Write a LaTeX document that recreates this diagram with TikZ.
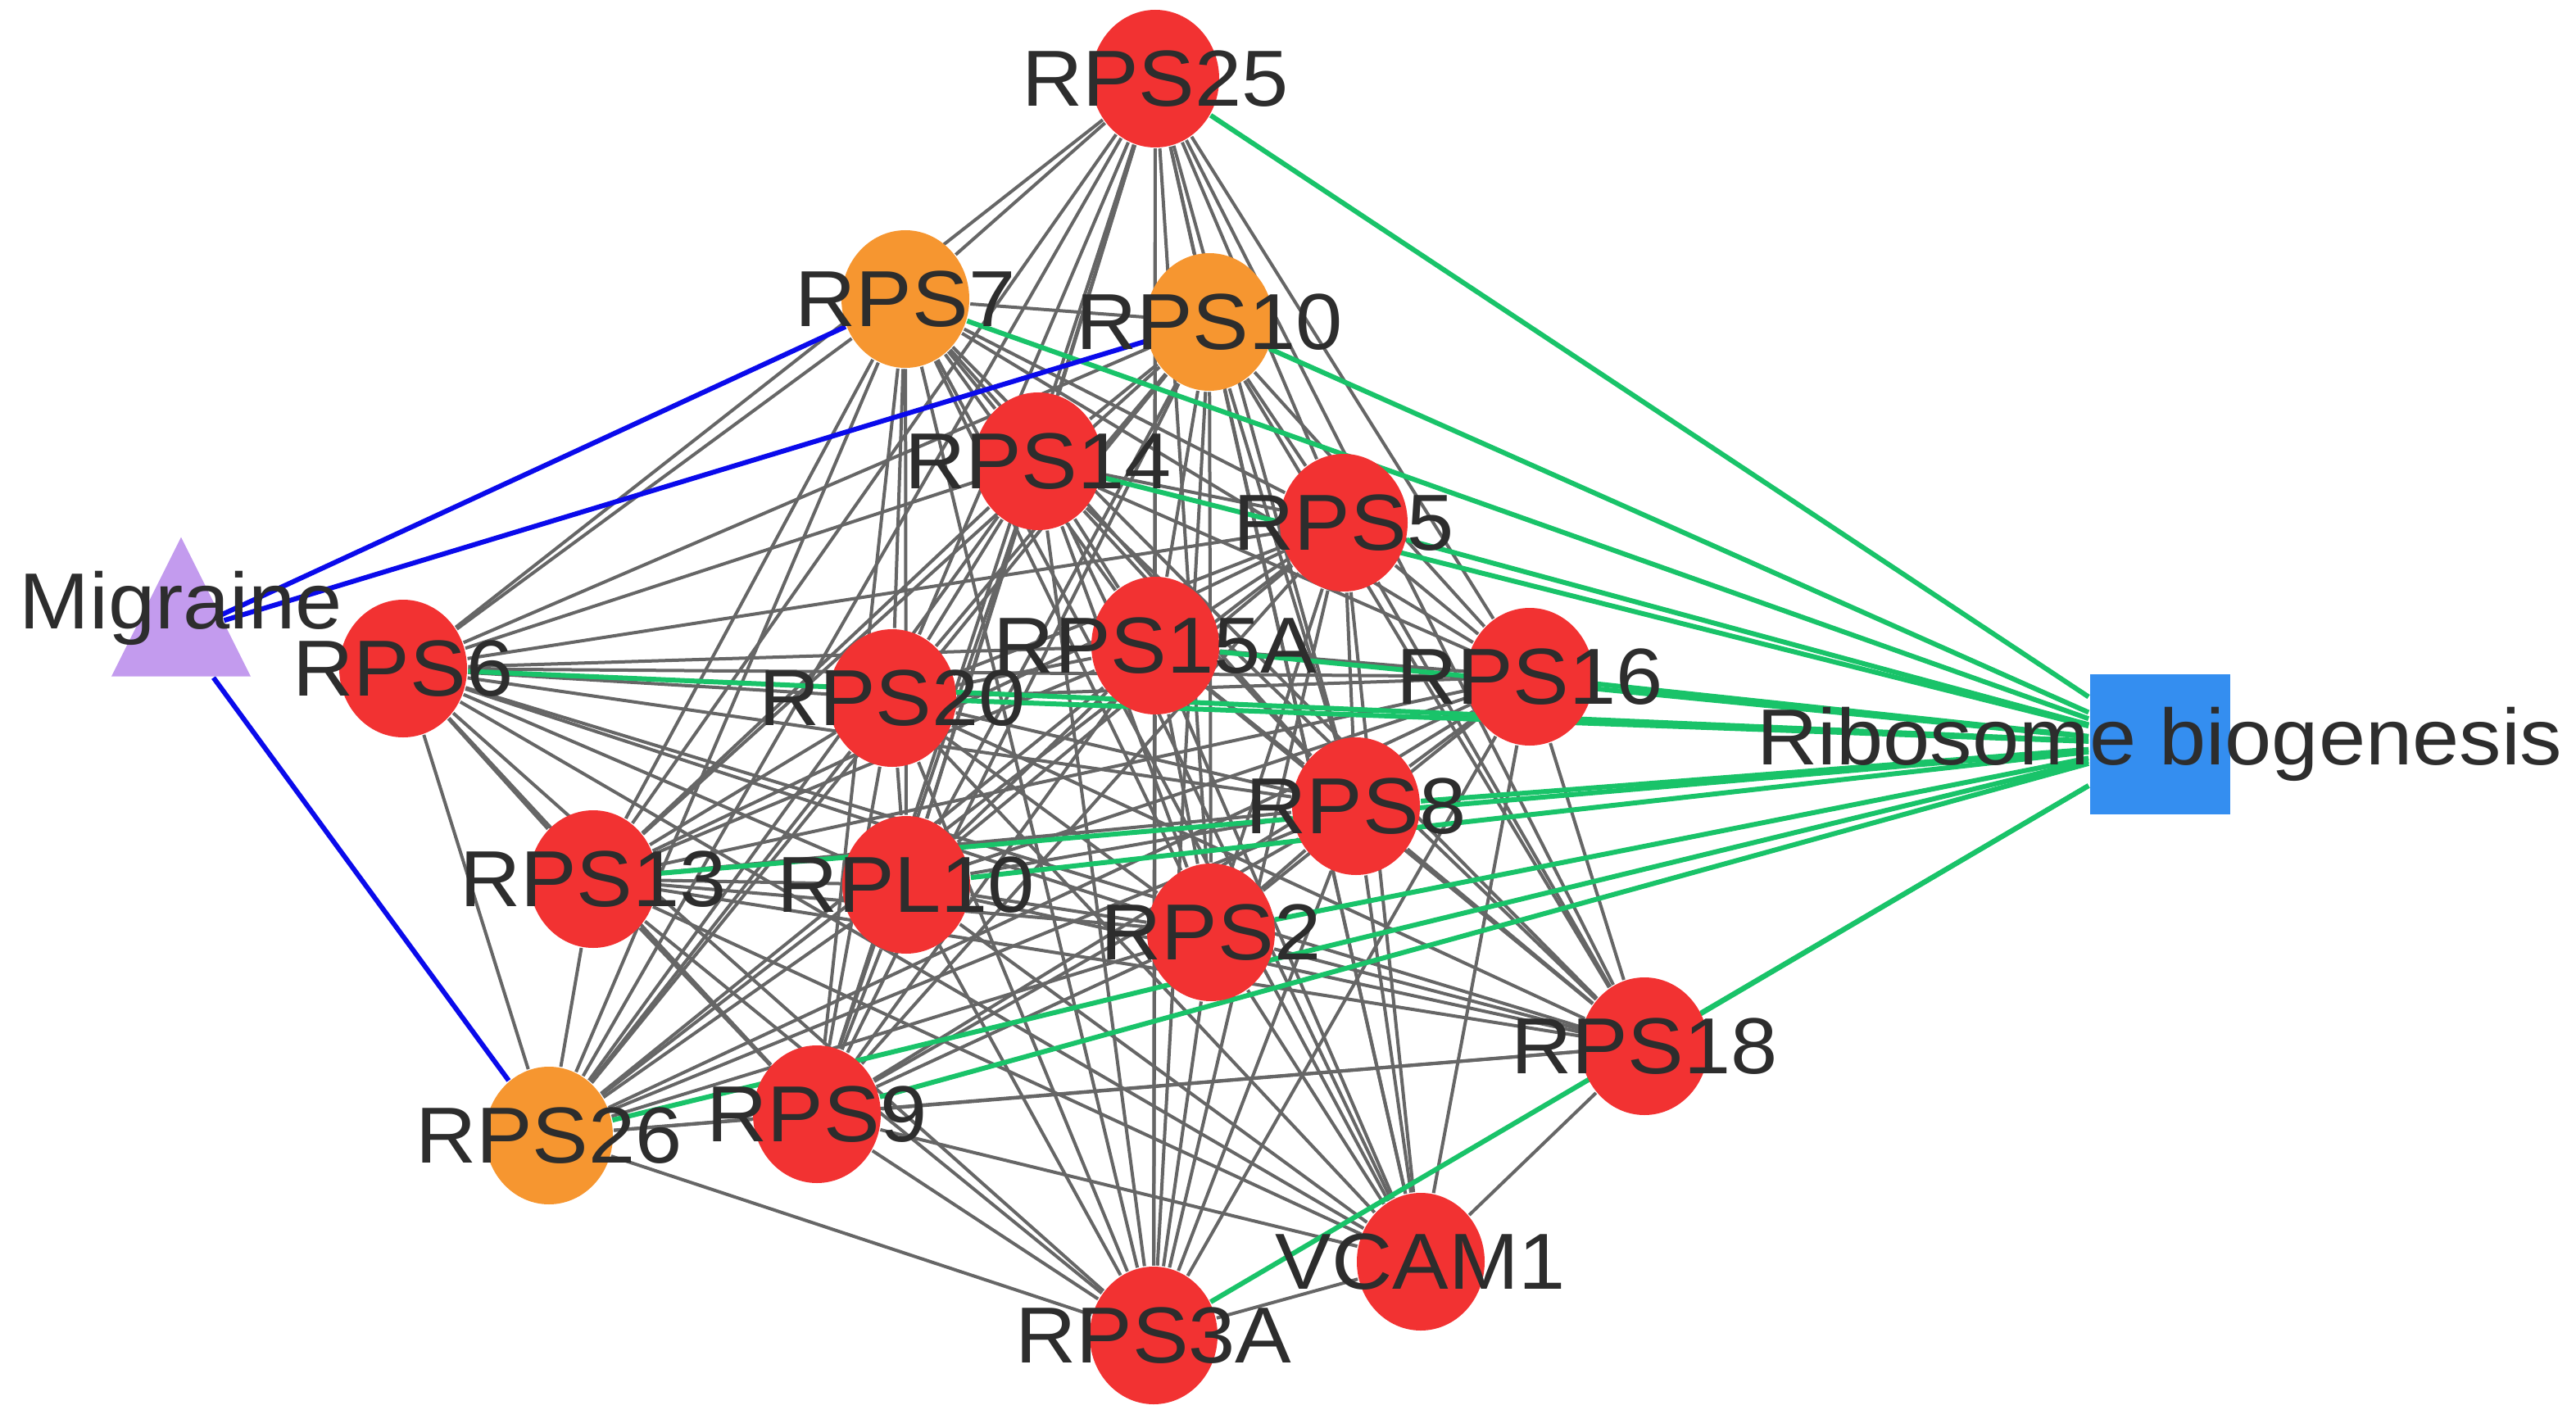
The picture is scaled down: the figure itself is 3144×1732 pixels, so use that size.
\documentclass[tikz,border=0pt]{standalone}
\usepackage{fontspec}
\setmainfont{Liberation Sans}
\newfontfamily\lblfont[FakeStretch=1.06]{Liberation Sans}
\usepackage{xcolor}
\usetikzlibrary{shapes.geometric}
\pgfdeclarelayer{background}
\pgfsetlayers{background,main}

\definecolor{genered}{RGB}{242,50,50}
\definecolor{hubor}{RGB}{246,150,48}
\definecolor{dispurple}{RGB}{195,155,238}
\definecolor{pathblue}{RGB}{52,142,240}
\definecolor{ppigray}{RGB}{102,102,102}
\definecolor{enrgreen}{RGB}{25,195,105}
\definecolor{disblue}{RGB}{10,10,235}
\definecolor{lbl}{RGB}{45,45,45}

\begin{document}
\begin{tikzpicture}[
    x=0.05mm, y=-0.05mm,
    lab/.style={font=\lblfont\fontsize{13.8}{16}\selectfont, text=lbl, inner sep=0pt},
    gene/.style={ellipse, fill=genered, minimum width=7.8mm, minimum height=8.4mm,
                 inner sep=0pt},
    hubgene/.style={gene, fill=hubor},
    disease/.style={isosceles triangle, shape border rotate=90,
                    isosceles triangle stretches, fill=dispurple,
                    minimum width=8.5mm, minimum height=8.5mm, inner sep=0pt},
    pathway/.style={rectangle, fill=pathblue, minimum size=8.55mm, inner sep=0pt},
    ppi/.style={draw=ppigray, line width=0.2mm},
    enr/.style={draw=enrgreen, line width=0.3mm},
    dis/.style={draw=disblue, line width=0.3mm}
]
    \useasboundingbox (0,0) rectangle (3144,1732);

    % proteins
    \node[gene, label={[lab]center:RPS25}] (rps25) at (1410,96) {};
    \node[hubgene, label={[lab]center:RPS7}] (rps7) at (1105,365) {};
    \node[hubgene, label={[lab]center:RPS10}] (rps10) at (1476,393) {};
    \node[gene, label={[lab]center:RPS14}] (rps14) at (1267,563) {};
    \node[gene, label={[lab]center:RPS5}] (rps5) at (1640,638) {};
    \node[gene, label={[lab]center:RPS15A}] (rps15a) at (1410,788) {};
    \node[gene, label={[lab]center:RPS16}] (rps16) at (1867,826) {};
    \node[gene, label={[lab]center:RPS20}] (rps20) at (1089,852) {};
    \node[gene, label={[lab]center:RPS6}] (rps6) at (492,816) {};
    \node[gene, label={[lab]center:RPS8}] (rps8) at (1655,984) {};
    \node[gene, label={[lab]center:RPS13}] (rps13) at (724,1073) {};
    \node[gene, label={[lab]center:RPL10}] (rpl10) at (1106,1080) {};
    \node[gene, label={[lab]center:RPS2}] (rps2) at (1478,1138) {};
    \node[gene, label={[lab]center:RPS18}] (rps18) at (2007,1277) {};
    \node[gene, label={[lab]center:RPS9}] (rps9) at (997,1360) {};
    \node[hubgene, label={[lab]center:RPS26}] (rps26) at (670,1386) {};
    \node[gene, label={[lab]center:VCAM1}] (vcam1) at (1734,1540) {};
    \node[gene, label={[lab]center:RPS3A}] (rps3a) at (1408,1630) {};

    % disease and pathway
    \node[disease, anchor=apex] (mig) at (221,652) {};
    \node[lab] (migt) at (221,742) {Migraine};
    \node[pathway, label={[lab]center:Ribosome biogenesis}] (rb) at (2636,908) {};

    \begin{pgfonlayer}{background}
    % protein-protein interactions
    \foreach \t in {rps7,rps10,rps14,rps5,rps15a,rps16,rps20,rps6,rps8,rps13,rpl10,rps2,rps18,rps9,rps26,rps3a,vcam1}
        \draw[ppi] (rps25) -- (\t);
    \foreach \t in {rps10,rps14,rps5,rps15a,rps16,rps20,rps6,rps8,rps13,rpl10,rps2,rps18,rps9,rps26,rps3a,vcam1}
        \draw[ppi] (rps7) -- (\t);
    \foreach \t in {rps14,rps5,rps15a,rps16,rps20,rps6,rps8,rps13,rpl10,rps2,rps18,rps9,rps26,rps3a,vcam1}
        \draw[ppi] (rps10) -- (\t);
    \foreach \t in {rps5,rps15a,rps16,rps20,rps6,rps8,rps13,rpl10,rps2,rps18,rps9,rps26,rps3a,vcam1}
        \draw[ppi] (rps14) -- (\t);
    \foreach \t in {rps15a,rps16,rps20,rps6,rps8,rps13,rpl10,rps2,rps18,rps9,rps26,rps3a,vcam1}
        \draw[ppi] (rps5) -- (\t);
    \foreach \t in {rps16,rps20,rps6,rps8,rps13,rpl10,rps2,rps18,rps9,rps26,rps3a,vcam1}
        \draw[ppi] (rps15a) -- (\t);
    \foreach \t in {rps20,rps6,rps8,rps13,rpl10,rps2,rps18,rps9,rps26,rps3a,vcam1}
        \draw[ppi] (rps16) -- (\t);
    \foreach \t in {rps6,rps8,rps13,rpl10,rps2,rps18,rps9,rps26,rps3a,vcam1}
        \draw[ppi] (rps20) -- (\t);
    \foreach \t in {rps8,rps13,rpl10,rps2,rps18,rps9,rps26,rps3a,vcam1}
        \draw[ppi] (rps6) -- (\t);
    \foreach \t in {rps13,rpl10,rps2,rps18,rps9,rps26,rps3a,vcam1}
        \draw[ppi] (rps8) -- (\t);
    \foreach \t in {rpl10,rps2,rps18,rps9,rps26,rps3a,vcam1}
        \draw[ppi] (rps13) -- (\t);
    \foreach \t in {rps2,rps18,rps9,rps26,rps3a,vcam1}
        \draw[ppi] (rpl10) -- (\t);
    \foreach \t in {rps18,rps9,rps26,rps3a,vcam1}
        \draw[ppi] (rps2) -- (\t);
    \foreach \t in {rps9,rps26,rps3a,vcam1}
        \draw[ppi] (rps18) -- (\t);
    \foreach \t in {rps26,rps3a,vcam1}
        \draw[ppi] (rps9) -- (\t);
    \draw[ppi] (rps26) -- (rps3a);
    \draw[ppi] (rps3a) -- (vcam1);

    % pathway links
    \foreach \t in {rps25,rps7,rps10,rps14,rps5,rps15a,rps16,rps20,rps6,rps8,rps13,rpl10,rps2,rps18,rps9,rps26,rps3a}
        \draw[enr] (rb) -- (\t);

    % disease links
    \foreach \t in {rps7,rps10,rps26}
        \draw[dis] (mig) -- (\t);
    \end{pgfonlayer}
\end{tikzpicture}
\end{document}
